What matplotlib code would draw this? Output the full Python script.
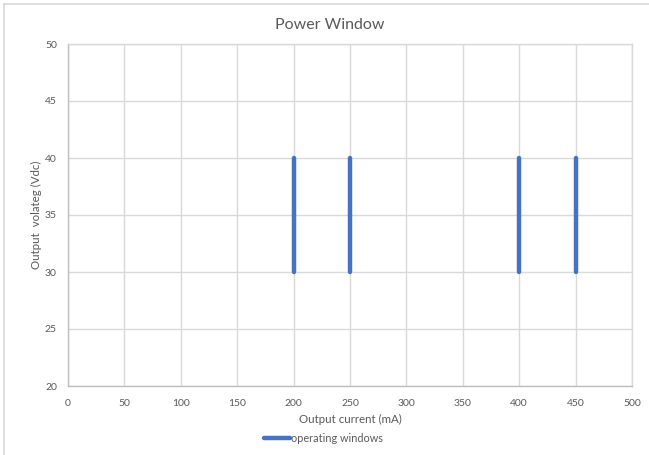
import numpy as np
from matplotlib import pyplot as plt
from matplotlib.lines import Line2D

currents = [200, 250, 400, 450]
v_low = [30, 30, 30, 30]
v_high = [40, 40, 40, 40]
x_ticks = [0, 50, 100, 150, 200, 250, 300, 350, 400, 450, 500]
y_ticks = [20, 25, 30, 35, 40, 45, 50]

plt.rcParams["font.family"] = ["Lato", "DejaVu Sans"]

# one series, broken into segments by NaN gaps (like Excel empty cells)
xs, ys = [], []
for c, lo, hi in zip(currents, v_low, v_high):
    xs += [c, c, np.nan]
    ys += [lo, hi, np.nan]

fig = plt.figure(figsize=(6.49, 4.55), dpi=100)
ax = fig.add_axes([68 / 649, 1 - 386 / 455, (632 - 68) / 649, (386 - 44) / 455])

grid_c = "#d9d9d9"
text_c = "#595959"

ax.plot(xs, ys, color="#4472c4", linewidth=3.2, solid_capstyle="round",
        label="operating windows", zorder=3)

ax.set_xlim(0, 500)
ax.set_ylim(20, 50)
ax.set_xticks(x_ticks)
ax.set_yticks(y_ticks)
ax.grid(True, color=grid_c, linewidth=1.0)
ax.set_axisbelow(True)
for s in ax.spines.values():
    s.set_color(grid_c)
    s.set_linewidth(1.0)
ax.spines["left"].set_color("#bfbfbf")
ax.spines["bottom"].set_color("#bfbfbf")
ax.tick_params(length=0, labelsize=7.5, colors=text_c)
ax.tick_params(axis="x", pad=9)
ax.tick_params(axis="y", pad=8)

# title is centred on the whole chart area, not the plot area
fig.text(330 / 649, 1 - 25 / 455, "Power Window", fontsize=11.5, color=text_c,
         ha="center", va="center")
ax.set_xlabel("Output current (mA)", fontsize=8.3, color=text_c, labelpad=5)
ax.set_ylabel("Output  volateg (Vdc)", fontsize=8.3, color=text_c, labelpad=2)

fig.legend(loc="center", bbox_to_anchor=(323 / 649, 1 - 438 / 455), frameon=False,
           fontsize=7.8, labelcolor=text_c, handlelength=2.4, handletextpad=0.1,
           borderpad=0)

# chart-area border (only left and top visible in the crop)
fig.add_artist(Line2D([4 / 649, 4 / 649], [0, 1 - 4 / 455], color=grid_c, linewidth=1.2))
fig.add_artist(Line2D([4 / 649, 1], [1 - 4 / 455, 1 - 4 / 455], color=grid_c, linewidth=1.2))

fig.savefig("out.png", dpi=100)
